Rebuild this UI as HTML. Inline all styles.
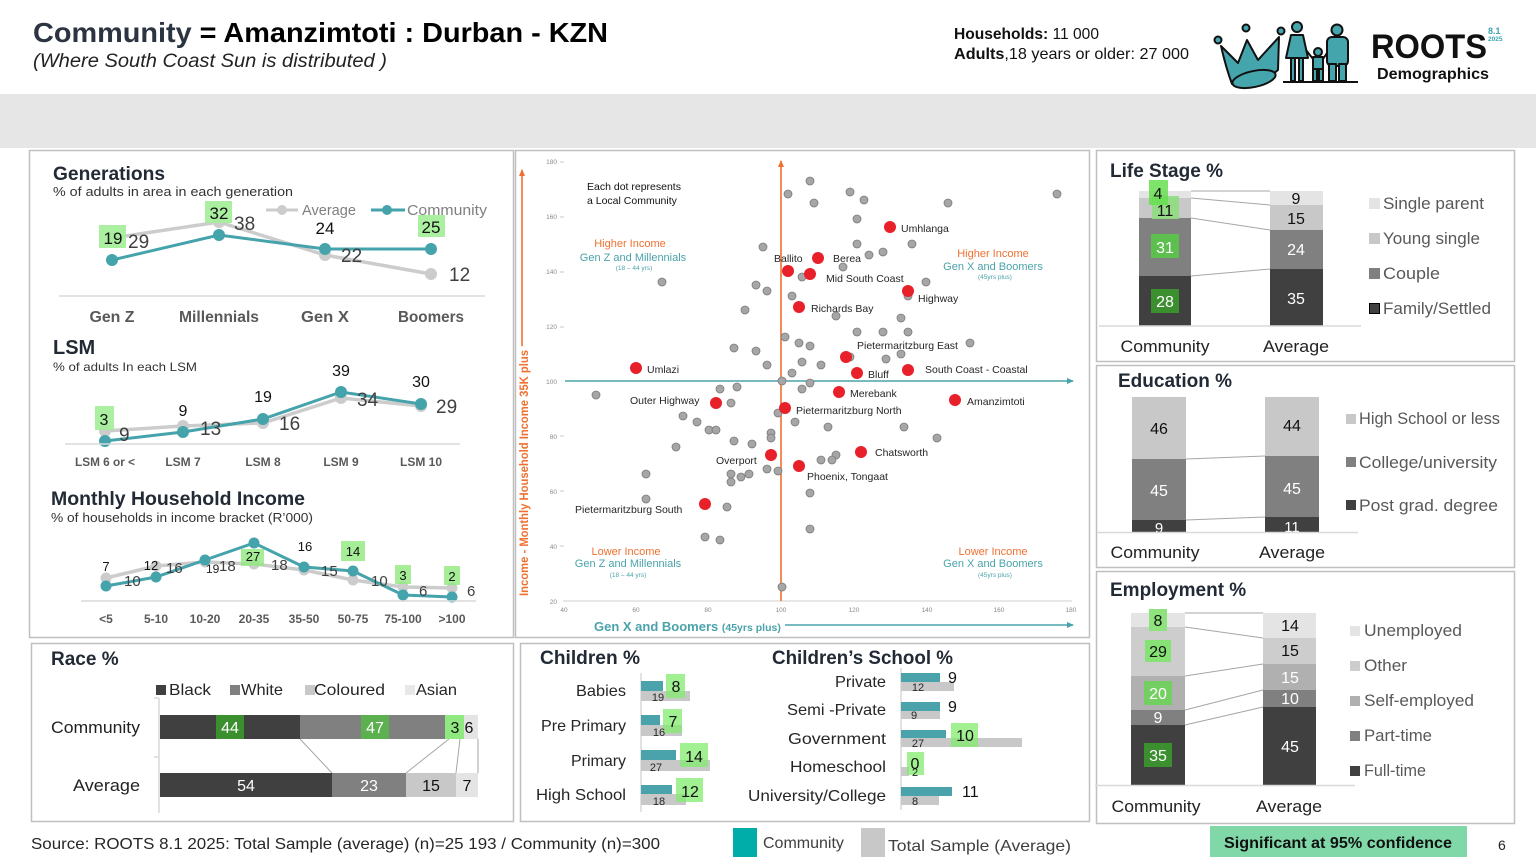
<!DOCTYPE html>
<html><head><meta charset="utf-8">
<style>
html,body{margin:0;padding:0;background:#fff;}
svg{display:block;font-family:"Liberation Sans","DejaVu Sans",sans-serif;}
</style></head><body>
<svg width="1536" height="864" viewBox="0 0 1536 864" xmlns="http://www.w3.org/2000/svg">
<defs>
<marker id="ao" markerWidth="10" markerHeight="10" refX="6" refY="4" orient="auto" markerUnits="userSpaceOnUse"><path d="M0,1 L7,4 L0,7 z" fill="#f07030"/></marker>
<marker id="at" markerWidth="10" markerHeight="10" refX="6" refY="4" orient="auto" markerUnits="userSpaceOnUse"><path d="M0,1 L7,4 L0,7 z" fill="#4aa3ab"/></marker>
</defs>
<rect width="1536" height="864" fill="#fff"/>
<rect x="0" y="94" width="1536" height="54" fill="#e6e6e6"/>

<!-- HEADER -->
<text x="33" y="42" font-size="28" font-weight="bold" textLength="575" lengthAdjust="spacingAndGlyphs"><tspan fill="#2b3440">Community</tspan><tspan fill="#000"> = Amanzimtoti : Durban - KZN</tspan></text>
<text x="33" y="67" font-size="19" font-style="italic" fill="#222" textLength="354" lengthAdjust="spacingAndGlyphs">(Where South Coast Sun is distributed )</text>
<text x="954" y="39" font-size="16" fill="#111" textLength="145" lengthAdjust="spacingAndGlyphs"><tspan font-weight="bold">Households:</tspan> 11 000</text>
<text x="954" y="59" font-size="16" fill="#111" textLength="235" lengthAdjust="spacingAndGlyphs"><tspan font-weight="bold">Adults</tspan>,18 years or older: 27 000</text>

<!-- LOGO -->
<g stroke="#111" stroke-width="2" fill="#45a5ad" stroke-linejoin="round">
<path d="M1221,46 L1238,63 L1247,40 L1258,60 L1279,37 L1278,70 Q1262,84 1240,87 L1232,84 Q1226,68 1221,46 Z"/>
<ellipse cx="1254" cy="79" rx="22" ry="8" transform="rotate(-12 1254 79)"/>
<circle cx="1218" cy="40" r="3.5"/><circle cx="1246" cy="28" r="3.5"/><circle cx="1281" cy="31" r="3.5"/>
<circle cx="1297" cy="27" r="5"/>
<path d="M1291,35 L1303,35 L1308,58 L1286,58 Z"/>
<rect x="1291" y="58" width="4" height="23"/><rect x="1299" y="58" width="4" height="23"/>
<circle cx="1318" cy="52" r="4"/>
<rect x="1313" y="57" width="10" height="12"/>
<rect x="1313" y="69" width="4" height="12"/><rect x="1319" y="69" width="4" height="12"/>
<path d="M1313,59 L1306,50 M1323,59 L1329,50" fill="none"/>
<circle cx="1337" cy="30" r="5.5"/>
<rect x="1327" y="37" width="21" height="29" rx="5"/>
<rect x="1329" y="64" width="7" height="17"/><rect x="1339" y="64" width="7" height="17"/>
</g>
<line x1="1283" y1="82" x2="1358" y2="82" stroke="#111" stroke-width="2"/>
<text x="1371" y="58" font-size="34" font-weight="bold" fill="#111" textLength="116" lengthAdjust="spacingAndGlyphs">ROOTS</text>
<text x="1488" y="34" font-size="9" font-weight="bold" fill="#3aa6b0">8.1</text>
<text x="1488" y="41" font-size="6.5" font-weight="bold" fill="#3aa6b0">2025</text>
<text x="1377" y="79" font-size="16" font-weight="bold" fill="#111" textLength="112" lengthAdjust="spacingAndGlyphs">Demographics</text>

<!-- PANEL BORDERS -->
<g fill="none" stroke="#bfbfbf" stroke-width="1.5">
<rect x="29.5" y="150.5" width="484" height="487"/>
<rect x="515.5" y="150.5" width="574" height="487"/>
<rect x="1096.5" y="150.5" width="418" height="211"/>
<rect x="1096.5" y="365.5" width="418" height="202"/>
<rect x="1096.5" y="571.5" width="418" height="252"/>
<rect x="31.5" y="643.5" width="482" height="178"/>
<rect x="520.5" y="643.5" width="569" height="178"/>
</g>

<!-- GENERATIONS -->
<text x="53" y="180" font-size="19" font-weight="bold" fill="#222a35" textLength="112" lengthAdjust="spacingAndGlyphs">Generations</text>
<text x="53" y="196" font-size="13" fill="#333" textLength="240" lengthAdjust="spacingAndGlyphs">% of adults  in area in each generation</text>
<line x1="266" y1="210" x2="298" y2="210" stroke="#cccccc" stroke-width="3"/><circle cx="282" cy="210" r="5" fill="#cccccc"/>
<text x="302" y="215" font-size="15" fill="#7f7f7f" textLength="54" lengthAdjust="spacingAndGlyphs">Average</text>
<line x1="371" y1="210" x2="405" y2="210" stroke="#45a3ab" stroke-width="3"/><circle cx="387" cy="210" r="5" fill="#45a3ab"/>
<text x="407" y="215" font-size="15" fill="#7f7f7f" textLength="80" lengthAdjust="spacingAndGlyphs">Community</text>
<polyline points="112,238 219,222 325,255 431,274" fill="none" stroke="#cccccc" stroke-width="3.5"/>
<g fill="#cccccc"><circle cx="112" cy="238" r="6"/><circle cx="219" cy="222" r="6"/><circle cx="325" cy="255" r="6"/><circle cx="431" cy="274" r="6"/></g>
<polyline points="112,260 219,235 325,249 431,249" fill="none" stroke="#45a3ab" stroke-width="3"/>
<g fill="#45a3ab"><circle cx="112" cy="260" r="6"/><circle cx="219" cy="235" r="6"/><circle cx="325" cy="249" r="6"/><circle cx="431" cy="249" r="6"/></g>
<rect x="99" y="225" width="27" height="23" fill="#a4ef98" fill-opacity="0.92"/>
<rect x="205" y="201" width="27" height="22" fill="#a4ef98" fill-opacity="0.92"/>
<rect x="418" y="215" width="27" height="22" fill="#a4ef98" fill-opacity="0.92"/>
<g font-size="17" fill="#111" text-anchor="middle">
<text x="113" y="244">19</text><text x="219" y="219">32</text><text x="325" y="234">24</text><text x="431" y="233">25</text>
</g>
<g font-size="19" fill="#404040">
<text x="128" y="248">29</text><text x="234" y="230">38</text><text x="341" y="262">22</text><text x="449" y="281">12</text>
</g>
<line x1="59" y1="296" x2="485" y2="296" stroke="#d9d9d9" stroke-width="1.5"/>
<g font-size="16" font-weight="bold" fill="#595959" text-anchor="middle">
<text x="112" y="322" textLength="45" lengthAdjust="spacingAndGlyphs">Gen Z</text>
<text x="219" y="322" textLength="80" lengthAdjust="spacingAndGlyphs">Millennials</text>
<text x="325" y="322" textLength="48" lengthAdjust="spacingAndGlyphs">Gen X</text>
<text x="431" y="322" textLength="66" lengthAdjust="spacingAndGlyphs">Boomers</text>
</g>

<!-- LSM -->
<text x="53" y="354" font-size="20" font-weight="bold" fill="#222a35">LSM</text>
<text x="53" y="371" font-size="12" fill="#333" textLength="144" lengthAdjust="spacingAndGlyphs">% of adults In each LSM</text>
<polyline points="105,431 183,426 263,423 341,398 421,406" fill="none" stroke="#cccccc" stroke-width="3.5"/>
<g fill="#cccccc"><circle cx="105" cy="431" r="6"/><circle cx="183" cy="426" r="6"/><circle cx="263" cy="423" r="6"/><circle cx="341" cy="398" r="6"/><circle cx="421" cy="406" r="6"/></g>
<polyline points="105,441 183,432 263,419 341,392 421,404" fill="none" stroke="#45a3ab" stroke-width="3"/>
<g fill="#45a3ab"><circle cx="105" cy="441" r="6"/><circle cx="183" cy="432" r="6"/><circle cx="263" cy="419" r="6"/><circle cx="341" cy="392" r="6"/><circle cx="421" cy="404" r="6"/></g>
<rect x="95" y="406" width="19" height="24" fill="#a4ef98" fill-opacity="0.92"/>
<g font-size="16" fill="#111" text-anchor="middle">
<text x="104" y="425">3</text><text x="183" y="416">9</text><text x="263" y="402">19</text><text x="341" y="376">39</text><text x="421" y="387">30</text>
</g>
<g font-size="19" fill="#404040">
<text x="119" y="441">9</text><text x="200" y="435">13</text><text x="279" y="430">16</text><text x="357" y="406">34</text><text x="436" y="413">29</text>
</g>
<line x1="65" y1="444" x2="460" y2="444" stroke="#d9d9d9" stroke-width="1.5"/>
<g font-size="12" font-weight="bold" fill="#595959" text-anchor="middle">
<text x="105" y="466" textLength="60" lengthAdjust="spacingAndGlyphs">LSM 6 or &lt;</text>
<text x="183" y="466">LSM 7</text><text x="263" y="466">LSM 8</text><text x="341" y="466">LSM 9</text><text x="421" y="466">LSM 10</text>
</g>

<!-- INCOME -->
<text x="51" y="505" font-size="19" font-weight="bold" fill="#222a35" textLength="254" lengthAdjust="spacingAndGlyphs">Monthly Household Income</text>
<text x="51" y="522" font-size="12.5" fill="#333" textLength="262" lengthAdjust="spacingAndGlyphs">% of households in income bracket (R’000)</text>
<polyline points="106,578 156,566 205,562 254,564 304,570 353,580 403,587 452,588" fill="none" stroke="#cccccc" stroke-width="3.5"/>
<g fill="#cccccc"><circle cx="106" cy="578" r="5.5"/><circle cx="156" cy="566" r="5.5"/><circle cx="205" cy="562" r="5.5"/><circle cx="254" cy="564" r="5.5"/><circle cx="304" cy="570" r="5.5"/><circle cx="353" cy="580" r="5.5"/><circle cx="403" cy="587" r="5.5"/><circle cx="452" cy="588" r="5.5"/></g>
<polyline points="106,586 156,577 205,560 254,543 304,567 353,571 403,595 452,597" fill="none" stroke="#45a3ab" stroke-width="3"/>
<g fill="#45a3ab"><circle cx="106" cy="586" r="5.5"/><circle cx="156" cy="577" r="5.5"/><circle cx="205" cy="560" r="5.5"/><circle cx="254" cy="543" r="5.5"/><circle cx="304" cy="567" r="5.5"/><circle cx="353" cy="571" r="5.5"/><circle cx="403" cy="595" r="5.5"/><circle cx="452" cy="597" r="5.5"/></g>
<g fill="#8fe87c" fill-opacity="0.8">
<rect x="241" y="549" width="23" height="17"/><rect x="341" y="541" width="24" height="20"/><rect x="395" y="565" width="16" height="19"/><rect x="444" y="566" width="16" height="19"/>
</g>
<g font-size="13" fill="#111" text-anchor="middle">
<text x="106" y="571">7</text><text x="151" y="570">12</text><text x="253" y="561">27</text><text x="305" y="551">16</text><text x="353" y="556">14</text><text x="403" y="580">3</text><text x="452" y="581">2</text>
</g>
<text x="206" y="573" font-size="12" fill="#222">19</text>
<g font-size="15" fill="#404040">
<text x="124" y="586">10</text><text x="166" y="573">16</text><text x="219" y="571">18</text><text x="271" y="570">18</text><text x="321" y="576">15</text><text x="371" y="586">10</text><text x="419" y="596">6</text><text x="467" y="596">6</text>
</g>
<line x1="81" y1="601" x2="476" y2="601" stroke="#d9d9d9" stroke-width="1.5"/>
<g font-size="12" font-weight="bold" fill="#595959" text-anchor="middle">
<text x="106" y="623">&lt;5</text><text x="156" y="623">5-10</text><text x="205" y="623">10-20</text><text x="254" y="623">20-35</text><text x="304" y="623">35-50</text><text x="353" y="623">50-75</text><text x="403" y="623">75-100</text><text x="452" y="623">&gt;100</text>
</g>

<!-- SCATTER -->
<g font-size="6.5" fill="#8a8a8a" text-anchor="end">
<text x="557" y="164">180</text><text x="557" y="219">160</text><text x="557" y="274">140</text><text x="557" y="329">120</text><text x="557" y="384">100</text><text x="557" y="439">80</text><text x="557" y="494">60</text><text x="557" y="549">40</text><text x="557" y="604">20</text>
</g>
<g stroke="#bbb" stroke-width="0.8">
<line x1="560" y1="162" x2="564" y2="162"/><line x1="560" y1="217" x2="564" y2="217"/><line x1="560" y1="272" x2="564" y2="272"/><line x1="560" y1="327" x2="564" y2="327"/><line x1="560" y1="436" x2="564" y2="436"/><line x1="560" y1="491" x2="564" y2="491"/><line x1="560" y1="546" x2="564" y2="546"/>
</g>
<line x1="563" y1="601" x2="1072" y2="601" stroke="#cfcfcf" stroke-width="1"/>
<g font-size="6.5" fill="#8a8a8a" text-anchor="middle">
<text x="564" y="612">40</text><text x="636" y="612">60</text><text x="708" y="612">80</text><text x="781" y="612">100</text><text x="854" y="612">120</text><text x="927" y="612">140</text><text x="999" y="612">160</text><text x="1071" y="612">180</text>
</g>
<line x1="781" y1="601" x2="781" y2="161" stroke="#f07030" stroke-width="1.6" marker-end="url(#ao)"/>
<line x1="565" y1="381" x2="1073" y2="381" stroke="#4aa3ab" stroke-width="1.6" marker-end="url(#at)"/>
<line x1="522" y1="346" x2="522" y2="170" stroke="#f07030" stroke-width="1.6" marker-end="url(#ao)"/>
<text transform="translate(528,596) rotate(-90)" font-size="12" font-weight="bold" fill="#f07030" textLength="246" lengthAdjust="spacingAndGlyphs">Income - Monthly Household Income 35K plus</text>
<text x="594" y="631" font-size="13" font-weight="bold" fill="#4aa3ab">Gen X and Boomers <tspan font-size="10.5">(45yrs plus)</tspan></text>
<line x1="785" y1="625" x2="1073" y2="625" stroke="#4aa3ab" stroke-width="1.6" marker-end="url(#at)"/>

<g fill="#a6a6a6" stroke="#7a7a7a" stroke-width="0.8">
<circle cx="810" cy="181" r="4"/><circle cx="788" cy="194" r="4"/><circle cx="850" cy="192" r="4"/><circle cx="814" cy="203" r="4"/><circle cx="864" cy="200" r="4"/><circle cx="948" cy="203" r="4"/><circle cx="1057" cy="194" r="4"/><circle cx="857" cy="219" r="4"/><circle cx="763" cy="247" r="4"/><circle cx="857" cy="244" r="4"/><circle cx="912" cy="244" r="4"/><circle cx="869" cy="255" r="4"/><circle cx="883" cy="252" r="4"/><circle cx="843" cy="267" r="4"/><circle cx="662" cy="282" r="4"/><circle cx="802" cy="277" r="4"/><circle cx="756" cy="285" r="4"/><circle cx="767" cy="291" r="4"/><circle cx="792" cy="296" r="4"/><circle cx="926" cy="282" r="4"/><circle cx="908" cy="296" r="4"/><circle cx="745" cy="310" r="4"/><circle cx="836" cy="316" r="4"/><circle cx="901" cy="318" r="4"/><circle cx="857" cy="332" r="4"/><circle cx="883" cy="332" r="4"/><circle cx="908" cy="332" r="4"/><circle cx="785" cy="337" r="4"/><circle cx="799" cy="343" r="4"/><circle cx="810" cy="346" r="4"/><circle cx="734" cy="348" r="4"/><circle cx="756" cy="351" r="4"/><circle cx="970" cy="343" r="4"/><circle cx="901" cy="354" r="4"/><circle cx="886" cy="359" r="4"/><circle cx="850" cy="357" r="4"/><circle cx="767" cy="365" r="4"/><circle cx="802" cy="362" r="4"/><circle cx="821" cy="365" r="4"/><circle cx="792" cy="373" r="4"/><circle cx="782" cy="381" r="4"/><circle cx="720" cy="389" r="4"/><circle cx="737" cy="387" r="4"/><circle cx="802" cy="389" r="4"/><circle cx="810" cy="383" r="4"/><circle cx="596" cy="395" r="4"/>
<circle cx="731" cy="403" r="4"/><circle cx="778" cy="413" r="4"/><circle cx="683" cy="416" r="4"/><circle cx="697" cy="422" r="4"/><circle cx="795" cy="422" r="4"/><circle cx="709" cy="430" r="4"/><circle cx="716" cy="430" r="4"/><circle cx="828" cy="427" r="4"/><circle cx="904" cy="427" r="4"/><circle cx="771" cy="433" r="4"/><circle cx="771" cy="438" r="4"/><circle cx="937" cy="438" r="4"/><circle cx="734" cy="441" r="4"/><circle cx="752" cy="444" r="4"/><circle cx="676" cy="447" r="4"/><circle cx="836" cy="455" r="4"/><circle cx="821" cy="460" r="4"/><circle cx="832" cy="460" r="4"/><circle cx="767" cy="469" r="4"/><circle cx="778" cy="471" r="4"/><circle cx="646" cy="474" r="4"/><circle cx="731" cy="474" r="4"/><circle cx="749" cy="474" r="4"/><circle cx="741" cy="477" r="4"/><circle cx="731" cy="482" r="4"/><circle cx="810" cy="493" r="4"/><circle cx="646" cy="499" r="4"/><circle cx="727" cy="507" r="4"/><circle cx="705" cy="537" r="4"/><circle cx="720" cy="540" r="4"/><circle cx="810" cy="529" r="4"/><circle cx="782" cy="587" r="4"/>
</g>
<g fill="#e8202a">
<circle cx="890" cy="227" r="6"/><circle cx="818" cy="258" r="6"/><circle cx="788" cy="271" r="6"/><circle cx="810" cy="274" r="6"/><circle cx="908" cy="291" r="6"/><circle cx="799" cy="307" r="6"/><circle cx="846" cy="357" r="6"/><circle cx="636" cy="368" r="6"/><circle cx="857" cy="373" r="6"/><circle cx="908" cy="370" r="6"/><circle cx="839" cy="392" r="6"/><circle cx="716" cy="403" r="6"/><circle cx="785" cy="408" r="6"/><circle cx="955" cy="400" r="6"/><circle cx="861" cy="452" r="6"/><circle cx="771" cy="455" r="6"/><circle cx="799" cy="466" r="6"/><circle cx="705" cy="504" r="6"/>
</g>
<g font-size="10.5" fill="#262626">
<text x="901" y="232">Umhlanga</text>
<text x="774" y="262">Ballito</text>
<text x="833" y="262">Berea</text>
<text x="826" y="282">Mid South Coast</text>
<text x="918" y="302">Highway</text>
<text x="811" y="312">Richards Bay</text>
<text x="857" y="349">Pietermaritzburg East</text>
<text x="647" y="373">Umlazi</text>
<text x="868" y="378">Bluff</text>
<text x="925" y="373">South Coast - Coastal</text>
<text x="850" y="397">Merebank</text>
<text x="630" y="404">Outer Highway</text>
<text x="967" y="405">Amanzimtoti</text>
<text x="796" y="414">Pietermaritzburg North</text>
<text x="875" y="456">Chatsworth</text>
<text x="716" y="464">Overport</text>
<text x="807" y="480">Phoenix, Tongaat</text>
<text x="575" y="513">Pietermaritzburg South</text>
</g>
<g font-size="10.5" fill="#111">
<text x="587" y="190">Each dot represents</text>
<text x="587" y="204">a Local Community</text>
</g>
<g text-anchor="middle">
<text x="630" y="247" font-size="11" fill="#f07030">Higher Income</text>
<text x="633" y="261" font-size="11" fill="#4aa3ab">Gen Z and Millennials</text>
<text x="634" y="270" font-size="6.5" fill="#4aa3ab">(18 – 44 yrs)</text>
<text x="993" y="257" font-size="11" fill="#f07030">Higher Income</text>
<text x="993" y="270" font-size="11" fill="#4aa3ab">Gen X and Boomers</text>
<text x="995" y="279" font-size="6.5" fill="#4aa3ab">(45yrs plus)</text>
<text x="626" y="555" font-size="11" fill="#f07030">Lower Income</text>
<text x="628" y="567" font-size="11" fill="#4aa3ab">Gen Z and Millennials</text>
<text x="628" y="577" font-size="6.5" fill="#4aa3ab">(18 – 44 yrs)</text>
<text x="993" y="555" font-size="11" fill="#f07030">Lower Income</text>
<text x="993" y="567" font-size="11" fill="#4aa3ab">Gen X and Boomers</text>
<text x="995" y="577" font-size="6.5" fill="#4aa3ab">(45yrs plus)</text>
</g>

<!-- LIFE STAGE -->
<text x="1110" y="177" font-size="19" font-weight="bold" fill="#222a35">Life Stage %</text>
<g stroke="#a6a6a6" stroke-width="1">
<line x1="1191" y1="191" x2="1270" y2="191"/><line x1="1191" y1="198" x2="1270" y2="205"/><line x1="1191" y1="218" x2="1270" y2="230"/><line x1="1191" y1="276" x2="1270" y2="269"/>
</g>
<rect x="1139" y="191" width="52" height="7" fill="#e4e4e4"/>
<rect x="1139" y="198" width="52" height="20" fill="#c8c8c8"/>
<rect x="1139" y="218" width="52" height="58" fill="#808080"/>
<rect x="1139" y="276" width="52" height="50" fill="#404040"/>
<rect x="1270" y="191" width="53" height="14" fill="#e4e4e4"/>
<rect x="1270" y="205" width="53" height="25" fill="#c8c8c8"/>
<rect x="1270" y="230" width="53" height="39" fill="#808080"/>
<rect x="1270" y="269" width="53" height="57" fill="#404040"/>
<line x1="1099" y1="326" x2="1361" y2="326" stroke="#d9d9d9" stroke-width="1.5"/>
<rect x="1152" y="196" width="27" height="23" fill="#8fdc7f" fill-opacity="0.9"/>
<rect x="1149" y="180" width="19" height="25" fill="#66de50" fill-opacity="0.85"/>
<rect x="1151" y="234" width="28" height="24" fill="#5cbf4e"/>
<rect x="1151" y="289" width="28" height="24" fill="#3b8f2f"/>
<g font-size="16" text-anchor="middle">
<text x="1158" y="199" fill="#111">4</text>
<text x="1165" y="216" fill="#111">11</text>
<text x="1165" y="253" fill="#fff">31</text>
<text x="1165" y="307" fill="#fff">28</text>
<text x="1296" y="204" fill="#111">9</text>
<text x="1296" y="224" fill="#111">15</text>
<text x="1296" y="255" fill="#fff">24</text>
<text x="1296" y="304" fill="#fff">35</text>
</g>
<g font-size="17" fill="#222" text-anchor="middle">
<text x="1165" y="352" textLength="89" lengthAdjust="spacingAndGlyphs">Community</text>
<text x="1296" y="352" textLength="66" lengthAdjust="spacingAndGlyphs">Average</text>
</g>
<rect x="1369" y="198" width="11" height="11" fill="#e4e4e4"/>
<rect x="1369" y="233" width="11" height="11" fill="#c8c8c8"/>
<rect x="1369" y="268" width="11" height="11" fill="#808080"/>
<rect x="1369.5" y="303.5" width="10" height="10" fill="#404040" stroke="#000"/>
<g font-size="16.5" fill="#595959">
<text x="1383" y="209" textLength="101" lengthAdjust="spacingAndGlyphs">Single parent</text>
<text x="1383" y="244" textLength="97" lengthAdjust="spacingAndGlyphs">Young single</text>
<text x="1383" y="279" textLength="57" lengthAdjust="spacingAndGlyphs">Couple</text>
<text x="1383" y="314" textLength="108" lengthAdjust="spacingAndGlyphs">Family/Settled</text>
</g>

<!-- EDUCATION -->
<text x="1118" y="387" font-size="19" font-weight="bold" fill="#222a35">Education %</text>
<g stroke="#a6a6a6" stroke-width="1">
<line x1="1186" y1="459" x2="1265" y2="456"/><line x1="1186" y1="520" x2="1265" y2="517"/>
</g>
<rect x="1132" y="397" width="54" height="62" fill="#c8c8c8"/>
<rect x="1132" y="459" width="54" height="61" fill="#808080"/>
<rect x="1132" y="520" width="54" height="12" fill="#404040"/>
<rect x="1265" y="397" width="54" height="59" fill="#c8c8c8"/>
<rect x="1265" y="456" width="54" height="61" fill="#808080"/>
<rect x="1265" y="517" width="54" height="15" fill="#404040"/>
<g font-size="16" text-anchor="middle">
<text x="1159" y="434" fill="#111">46</text>
<text x="1159" y="496" fill="#fff">45</text>
<text x="1159" y="533" fill="#fff" font-size="15">9</text>
<text x="1292" y="431" fill="#111">44</text>
<text x="1292" y="494" fill="#fff">45</text>
<text x="1292" y="532" fill="#fff" font-size="15">11</text>
</g>
<line x1="1097" y1="532.5" x2="1358" y2="532.5" stroke="#d9d9d9" stroke-width="1.5"/>
<g font-size="17" fill="#222" text-anchor="middle">
<text x="1155" y="558" textLength="89" lengthAdjust="spacingAndGlyphs">Community</text>
<text x="1292" y="558" textLength="66" lengthAdjust="spacingAndGlyphs">Average</text>
</g>
<rect x="1346" y="414" width="10" height="10" fill="#c8c8c8"/>
<rect x="1346" y="457" width="10" height="10" fill="#808080"/>
<rect x="1346" y="500" width="10" height="10" fill="#404040"/>
<g font-size="16.5" fill="#595959">
<text x="1359" y="424" textLength="141" lengthAdjust="spacingAndGlyphs">High School or less</text>
<text x="1359" y="468" textLength="138" lengthAdjust="spacingAndGlyphs">College/university</text>
<text x="1359" y="511" textLength="139" lengthAdjust="spacingAndGlyphs">Post grad. degree</text>
</g>

<!-- EMPLOYMENT -->
<text x="1110" y="596" font-size="19" font-weight="bold" fill="#222a35">Employment  %</text>
<g stroke="#a6a6a6" stroke-width="1">
<line x1="1185" y1="613" x2="1263" y2="613"/><line x1="1185" y1="627" x2="1263" y2="638"/><line x1="1185" y1="676" x2="1263" y2="664"/><line x1="1185" y1="710" x2="1263" y2="690"/><line x1="1185" y1="725" x2="1263" y2="707"/>
</g>
<rect x="1131" y="613" width="54" height="14" fill="#e4e4e4"/>
<rect x="1131" y="627" width="54" height="49" fill="#cdcdcd"/>
<rect x="1131" y="676" width="54" height="34" fill="#b0b0b0"/>
<rect x="1131" y="710" width="54" height="15" fill="#808080"/>
<rect x="1131" y="725" width="54" height="60" fill="#404040"/>
<rect x="1263" y="613" width="53" height="25" fill="#e4e4e4"/>
<rect x="1263" y="638" width="53" height="26" fill="#cdcdcd"/>
<rect x="1263" y="664" width="53" height="26" fill="#b0b0b0"/>
<rect x="1263" y="690" width="53" height="17" fill="#808080"/>
<rect x="1263" y="707" width="53" height="78" fill="#404040"/>
<rect x="1149" y="609" width="18" height="22" fill="#8ee37c"/>
<rect x="1145" y="640" width="26" height="22" fill="#86e275"/>
<rect x="1144" y="681" width="28" height="24" fill="#74cf62"/>
<rect x="1144" y="743" width="28" height="24" fill="#3b8f2f"/>
<g font-size="16" text-anchor="middle">
<text x="1158" y="626" fill="#111">8</text>
<text x="1158" y="657" fill="#111">29</text>
<text x="1158" y="699" fill="#fff">20</text>
<text x="1158" y="723" fill="#fff">9</text>
<text x="1158" y="761" fill="#fff">35</text>
<text x="1290" y="631" fill="#111">14</text>
<text x="1290" y="656" fill="#111">15</text>
<text x="1290" y="683" fill="#fff">15</text>
<text x="1290" y="704" fill="#fff">10</text>
<text x="1290" y="752" fill="#fff">45</text>
</g>
<line x1="1095" y1="785.5" x2="1355" y2="785.5" stroke="#d9d9d9" stroke-width="1.5"/>
<g font-size="17" fill="#222" text-anchor="middle">
<text x="1156" y="812" textLength="89" lengthAdjust="spacingAndGlyphs">Community</text>
<text x="1289" y="812" textLength="66" lengthAdjust="spacingAndGlyphs">Average</text>
</g>
<rect x="1350" y="626" width="10" height="10" fill="#e4e4e4"/>
<rect x="1350" y="661" width="10" height="10" fill="#cdcdcd"/>
<rect x="1350" y="696" width="10" height="10" fill="#b0b0b0"/>
<rect x="1350" y="731" width="10" height="10" fill="#808080"/>
<rect x="1350" y="766" width="10" height="10" fill="#404040"/>
<g font-size="16.5" fill="#595959">
<text x="1364" y="636" textLength="98" lengthAdjust="spacingAndGlyphs">Unemployed</text>
<text x="1364" y="671" textLength="43" lengthAdjust="spacingAndGlyphs">Other</text>
<text x="1364" y="706" textLength="110" lengthAdjust="spacingAndGlyphs">Self-employed</text>
<text x="1364" y="741" textLength="68" lengthAdjust="spacingAndGlyphs">Part-time</text>
<text x="1364" y="776" textLength="62" lengthAdjust="spacingAndGlyphs">Full-time</text>
</g>
<rect x="1210" y="826" width="257" height="31" fill="#80d8a8"/>
<text x="1338" y="848" font-size="16" font-weight="bold" fill="#111" text-anchor="middle" textLength="228" lengthAdjust="spacingAndGlyphs">Significant at 95% confidence</text>
<text x="1498" y="850" font-size="14" fill="#222">6</text>

<!-- RACE -->
<text x="51" y="665" font-size="19" font-weight="bold" fill="#222a35">Race %</text>
<rect x="156" y="685" width="10" height="10" fill="#404040"/>
<rect x="230" y="685" width="10" height="10" fill="#808080"/>
<rect x="305" y="685" width="10" height="10" fill="#c8c8c8"/>
<rect x="405" y="685" width="10" height="10" fill="#e8e8e8"/>
<g font-size="16" fill="#262626">
<text x="169" y="695" textLength="42" lengthAdjust="spacingAndGlyphs">Black</text>
<text x="241" y="695" textLength="42" lengthAdjust="spacingAndGlyphs">White</text>
<text x="314" y="695" textLength="71" lengthAdjust="spacingAndGlyphs">Coloured</text>
<text x="416" y="695" textLength="41" lengthAdjust="spacingAndGlyphs">Asian</text>
</g>
<line x1="159" y1="698" x2="159" y2="813" stroke="#d9d9d9" stroke-width="1.5"/>
<line x1="154" y1="698" x2="159" y2="698" stroke="#d9d9d9" stroke-width="1.5"/>
<line x1="154" y1="757" x2="159" y2="757" stroke="#d9d9d9" stroke-width="1.5"/>
<g font-size="17" fill="#222" text-anchor="end">
<text x="140" y="733" textLength="89" lengthAdjust="spacingAndGlyphs">Community</text>
<text x="140" y="791" textLength="67" lengthAdjust="spacingAndGlyphs">Average</text>
</g>
<g stroke="#a6a6a6" stroke-width="1">
<line x1="300" y1="739" x2="332" y2="773"/><line x1="449" y1="739" x2="406" y2="773"/><line x1="460" y1="739" x2="456" y2="773"/><line x1="478" y1="739" x2="478" y2="773"/>
</g>
<rect x="160" y="715" width="140" height="24" fill="#404040"/>
<rect x="300" y="715" width="149" height="24" fill="#808080"/>
<rect x="449" y="715" width="14" height="24" fill="#c8c8c8"/>
<rect x="463" y="715" width="15" height="24" fill="#e4e4e4"/>
<rect x="216" y="715" width="28" height="24" fill="#3b8f2f"/>
<rect x="361" y="715" width="28" height="24" fill="#5cb04f"/>
<rect x="445" y="715" width="19" height="24" fill="#8fe880"/>
<rect x="160" y="773" width="172" height="24" fill="#404040"/>
<rect x="332" y="773" width="74" height="24" fill="#808080"/>
<rect x="406" y="773" width="50" height="24" fill="#c8c8c8"/>
<rect x="456" y="773" width="22" height="24" fill="#e4e4e4"/>
<g font-size="16" text-anchor="middle">
<text x="230" y="733" fill="#fff">44</text>
<text x="375" y="733" fill="#fff">47</text>
<text x="455" y="733" fill="#111">3</text>
<text x="469" y="733" fill="#111">6</text>
<text x="246" y="791" fill="#fff">54</text>
<text x="369" y="791" fill="#fff">23</text>
<text x="431" y="791" fill="#111">15</text>
<text x="467" y="791" fill="#111">7</text>
</g>
<text x="31" y="849" font-size="16" fill="#262626" textLength="629" lengthAdjust="spacingAndGlyphs">Source: ROOTS 8.1 2025:  Total Sample (average) (n)=25 193 / Community (n)=300</text>

<!-- CHILDREN -->
<text x="540" y="664" font-size="19" font-weight="bold" fill="#222a35" textLength="100" lengthAdjust="spacingAndGlyphs">Children %</text>
<text x="772" y="664" font-size="19" font-weight="bold" fill="#222a35" textLength="181" lengthAdjust="spacingAndGlyphs">Children’s School %</text>
<line x1="641" y1="673" x2="641" y2="812" stroke="#d9d9d9" stroke-width="1.5"/>
<line x1="901" y1="668" x2="901" y2="810" stroke="#d9d9d9" stroke-width="1.5"/>
<g fill="#c8c8c8">
<rect x="641" y="691" width="49" height="10"/><rect x="641" y="725" width="41" height="11"/><rect x="641" y="760" width="69" height="11"/><rect x="641" y="794" width="45" height="11"/>
<rect x="901" y="682" width="53" height="9"/><rect x="901" y="711" width="39" height="8"/><rect x="901" y="738" width="121" height="9"/><rect x="901" y="767" width="8" height="9"/><rect x="901" y="796" width="38" height="9"/>
</g>
<g fill="#4aa3ab">
<rect x="641" y="681" width="22" height="10"/><rect x="641" y="715" width="19" height="10"/><rect x="641" y="750" width="35" height="10"/><rect x="641" y="785" width="31" height="9"/>
<rect x="901" y="673" width="39" height="9"/><rect x="901" y="702" width="39" height="9"/><rect x="901" y="730" width="45" height="8"/><rect x="901" y="787" width="51" height="9"/>
</g>
<g fill="#82eb6e" fill-opacity="0.75">
<rect x="666" y="674" width="19" height="24"/><rect x="663" y="709" width="19" height="24"/><rect x="680" y="743" width="28" height="24"/><rect x="676" y="778" width="27" height="24"/>
<rect x="951" y="723" width="27" height="24"/><rect x="907" y="752" width="17" height="23"/>
</g>
<g font-size="16" fill="#262626" text-anchor="end">
<text x="626" y="696" textLength="50" lengthAdjust="spacingAndGlyphs">Babies</text>
<text x="626" y="731" textLength="85" lengthAdjust="spacingAndGlyphs">Pre Primary</text>
<text x="626" y="766" textLength="55" lengthAdjust="spacingAndGlyphs">Primary</text>
<text x="626" y="800" textLength="90" lengthAdjust="spacingAndGlyphs">High School</text>
<text x="886" y="687" textLength="51" lengthAdjust="spacingAndGlyphs">Private</text>
<text x="886" y="715" textLength="99" lengthAdjust="spacingAndGlyphs">Semi -Private</text>
<text x="886" y="744" textLength="98" lengthAdjust="spacingAndGlyphs">Government</text>
<text x="886" y="772" textLength="96" lengthAdjust="spacingAndGlyphs">Homeschool</text>
<text x="886" y="801" textLength="138" lengthAdjust="spacingAndGlyphs">University/College</text>
</g>
<g font-size="11" fill="#262626" text-anchor="middle">
<text x="658" y="701">19</text><text x="659" y="736">16</text><text x="656" y="771">27</text><text x="659" y="805">18</text>
<text x="918" y="691">12</text><text x="914" y="719">9</text><text x="918" y="747">27</text><text x="915" y="776">2</text><text x="915" y="805">8</text>
</g>
<g font-size="16" fill="#111" text-anchor="middle">
<text x="676" y="692">8</text><text x="673" y="727">7</text><text x="694" y="762">14</text><text x="690" y="797">12</text>
<text x="965" y="741">10</text><text x="915" y="769">0</text>
</g>
<g font-size="16" fill="#111">
<text x="948" y="683">9</text><text x="948" y="712">9</text><text x="962" y="797">11</text>
</g>
<rect x="733" y="828" width="24" height="29" fill="#00ada8"/>
<text x="763" y="848" font-size="16" fill="#404040">Community</text>
<rect x="861" y="828" width="24" height="29" fill="#c8c8c8"/>
<text x="888" y="851" font-size="16" fill="#404040" textLength="183" lengthAdjust="spacingAndGlyphs">Total Sample (Average)</text>
</svg>
</body></html>
